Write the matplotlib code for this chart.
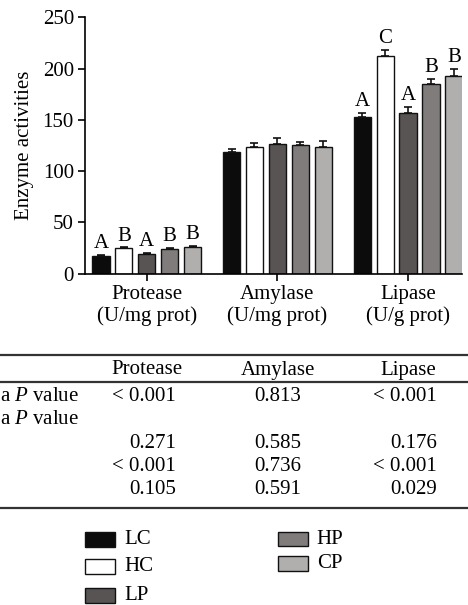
import numpy as np
import matplotlib
matplotlib.use('Agg')
import matplotlib.pyplot as plt
from matplotlib.patches import Rectangle

plt.rcParams['font.family'] = ['Liberation Serif', 'DejaVu Serif']
plt.rcParams['mathtext.fontset'] = 'custom'
plt.rcParams['mathtext.it'] = 'Liberation Serif:italic'

# data
enzymes = ['Protease', 'Amylase', 'Lipase']
units = ['(U/mg prot)', '(U/mg prot)', '(U/g prot)']
groups = ['LC', 'HC', 'LP', 'HP', 'CP']
colors = ['#0c0c0c', '#ffffff', '#585453', '#807c7b', '#b1afad']

means = {
    'LC': [17.3, 119.0, 152.6],
    'HC': [24.8, 123.3, 212.7],
    'LP': [19.2, 126.8, 156.8],
    'HP': [24.1, 125.5, 185.0],
    'CP': [26.0, 123.6, 192.9],
}
errs = {
    'LC': [1.0, 2.7, 4.5],
    'HC': [0.8, 4.0, 5.5],
    'LP': [0.8, 6.0, 6.2],
    'HP': [0.8, 2.7, 5.3],
    'CP': [1.0, 5.6, 7.1],
}
letters = {
    'LC': ['A', '', 'A'],
    'HC': ['B', '', 'C'],
    'LP': ['A', '', 'A'],
    'HP': ['B', '', 'B'],
    'CP': ['B', '', 'B'],
}

table_header = ['Protease', 'Amylase', 'Lipase']
row_labels = ['a $P$ value', 'a $P$ value', '', '', '']
row_values = [
    ['< 0.001', '0.813', '< 0.001'],
    ['', '', ''],
    ['0.271', '0.585', '0.176'],
    ['< 0.001', '0.736', '< 0.001'],
    ['0.105', '0.591', '0.029'],
]

W, H = 468, 605
fig = plt.figure(figsize=(W / 100, H / 100), dpi=100)

ax = fig.add_axes([85 / W, 1 - 273.7 / H, (462.3 - 85) / W, (273.7 - 17.3) / H])
x = np.arange(len(enzymes))
step = 0.1756
width = 0.132
for i, g in enumerate(groups):
    xpos = x + (i - 2) * step
    ax.bar(xpos, means[g], width, color=colors[i], edgecolor='#111111', linewidth=1.0, zorder=2)
    ax.errorbar(xpos, means[g], yerr=[np.zeros(3), errs[g]], fmt='none', ecolor='#111111',
                elinewidth=1.2, capsize=2.8, capthick=1.2, zorder=1)
    for xp, m, e, lab in zip(xpos, means[g], errs[g], letters[g]):
        if lab:
            ax.annotate(lab, (xp, m + e), xytext=(0, 5), textcoords='offset points',
                        ha='center', va='baseline', fontsize=15)

ax.set_xlim(-0.473, 2.415)
ax.set_ylim(0, 250)
ax.set_yticks([0, 50, 100, 150, 200, 250])
ax.set_xticks(x)
ax.set_xticklabels([f'{e}\n{u}' for e, u in zip(enzymes, units)], fontsize=15, linespacing=1.15)
ax.tick_params(axis='y', labelsize=15, length=5, width=1.2, pad=3)
ax.tick_params(axis='x', length=5, width=1.2, pad=3)
ax.set_ylabel('Enzyme activities', fontsize=15, labelpad=6)
for s in ['top', 'right']:
    ax.spines[s].set_visible(False)
for s in ['left', 'bottom']:
    ax.spines[s].set_linewidth(1.2)

# table and legend drawn in pixel coordinates
ov = fig.add_axes([0, 0, 1, 1])
ov.set_xlim(0, W)
ov.set_ylim(H, 0)
ov.axis('off')

for yl in [355, 382.3, 507.7]:
    ov.plot([0, W], [yl, yl], color='#333333', lw=1.6)

hdr_x = [147, 277.7, 408]
for hx, t in zip(hdr_x, table_header):
    ov.text(hx, 370, t, ha='center', va='center', fontsize=15)

row_y = [396.7, 419.3, 443.3, 466.7, 489.3]
for ry, lab, vals in zip(row_y, row_labels, row_values):
    if lab:
        ov.text(0, ry, lab, ha='left', va='center', fontsize=15)
    ov.text(176, ry, vals[0], ha='right', va='center', fontsize=15)
    ov.text(277.7, ry, vals[1], ha='center', va='center', fontsize=15)
    ov.text(436.7, ry, vals[2], ha='right', va='center', fontsize=15)

leg_pos = [(85, 539.3), (85, 566.7), (85, 595.3), (277.7, 539), (277.7, 563.3)]
for (lx, ly), g, c in zip(leg_pos, groups, colors):
    ov.add_patch(Rectangle((lx, ly - 7.3), 30, 14.6, facecolor=c, edgecolor='#111111', lw=1.0))
    ov.text(lx + 39, ly, g, ha='left', va='center', fontsize=15)

fig.savefig('out.png', dpi=100)
